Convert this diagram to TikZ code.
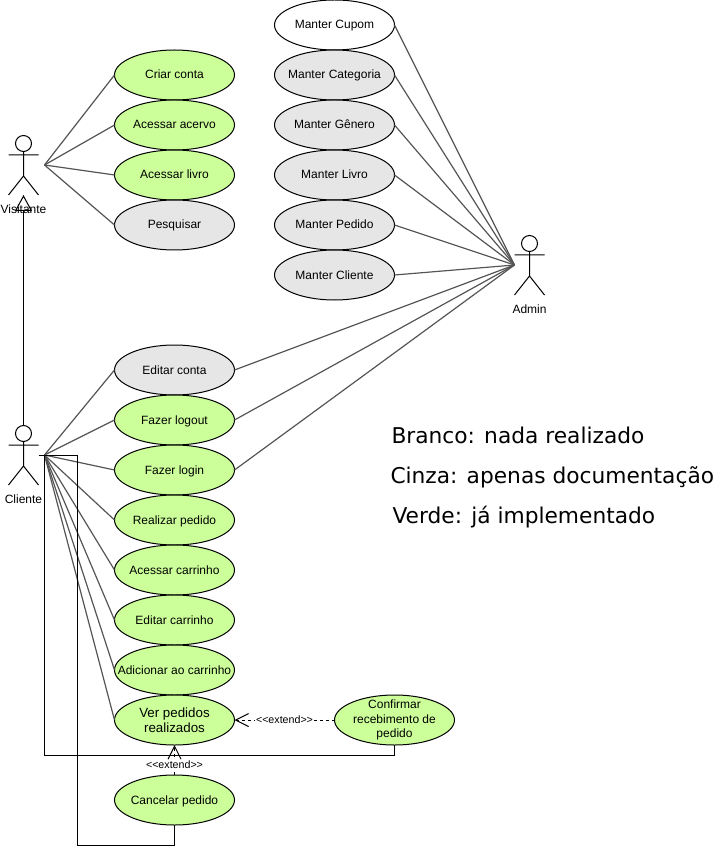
\documentclass[tikz,border=0pt]{standalone}
\usepackage{fontspec}
\setmainfont{Liberation Sans}
\newfontfamily\legendfont{DejaVu Sans}
\usetikzlibrary{arrows.meta, positioning, shapes.geometric}
\definecolor{ink}{HTML}{000000}
\definecolor{assoc}{HTML}{555555}
\definecolor{softgreen}{HTML}{CCFF99}
\definecolor{softgray}{HTML}{E6E6E6}
\newcommand{\extendtext}{<{}<extend>{}>}

\begin{document}
\begin{tikzpicture}[
  x=0.75pt, y=-0.75pt,
  node distance=0pt,
  line width=0.75pt,
  usecase/.style={draw=ink, ellipse, minimum width=90pt, minimum height=37.5pt, inner sep=-14pt, outer sep=0pt, align=center, text height=8pt, text depth=2pt, font=\fontsize{9}{11}\selectfont},
  manylines/.style={text height=, text depth=},
  done/.style={usecase, fill=softgreen},
  docs/.style={usecase, fill=softgray},
  todo/.style={usecase, fill=white},
  actor/.style={minimum width=22.5pt, minimum height=45pt, inner sep=0pt, outer xsep=4.5pt, outer ysep=0pt},
  actorname/.style={inner sep=0pt, font=\fontsize{9}{11}\selectfont},
  legend/.style={anchor=base west, inner sep=0pt, font=\legendfont\fontsize{16.3}{19}\selectfont},
  extendname/.style={fill=white, inner sep=1pt, font=\fontsize{8}{9}\selectfont},
  assocline/.style={draw=assoc, line width=0.9pt},
  extendline/.style={draw=ink, dashed, dash pattern=on 2.25pt off 2.25pt, -{Straight Barb[length=9.75pt, width=9.75pt]}}
]
\useasboundingbox (0,0) rectangle (723,848);

% actors
\node[actor] (visitante) at (23.5,165) {};
\node[actor] (cliente) at (23.5,455) {};
\node[actor, outer xsep=0pt] (admin) at (529.5,265) {};

\foreach \who in {visitante,cliente,admin} {
  \begin{scope}[shift={(\who.center)}]
    \draw (0,-21.5) circle[radius=8];
    \draw (0,-13.5) -- (0,11) (-15,-10) -- (15,-10) (-15,30) -- (0,11) -- (15,30);
  \end{scope}
}

% visitante cases
\node[done] (criar) at (174.5,75) {Criar conta};
\node[done, below=of criar] (acervo) {Acessar acervo};
\node[done, below=of acervo] (livro) {Acessar livro};
\node[docs, below=of livro] (pesquisar) {Pesquisar};

% admin cases
\node[todo] (cupom) at (334.5,25) {Manter Cupom};
\node[docs, below=of cupom] (categoria) {Manter Categoria};
\node[docs, below=of categoria] (genero) {Manter Gênero};
\node[docs, below=of genero] (mlivro) {Manter Livro};
\node[docs, below=of mlivro] (mpedido) {Manter Pedido};
\node[docs, below=of mpedido] (mcliente) {Manter Cliente};

% cliente cases
\node[docs] (editar) at (174.5,370) {Editar conta};
\node[done, below=of editar] (logout) {Fazer logout};
\node[done, below=of logout] (login) {Fazer login};
\node[done, below=of login] (realizar) {Realizar pedido};
\node[done, below=of realizar] (carrinho) {Acessar carrinho};
\node[done, below=of carrinho] (ecarrinho) {Editar carrinho};
\node[done, below=of ecarrinho] (adicionar) {Adicionar ao carrinho};
\node[done, manylines, below=of adicionar, font=\fontsize{10}{11.25}\selectfont] (pedidos) {Ver pedidos\\realizados};
\node[done, manylines] (confirmar) at (394.5,720) {Confirmar\\recebimento de\\pedido};
\node[done] (cancelar) at (174.5,800) {Cancelar pedido};

\coordinate (clientehand) at (38.5,455);
\coordinate (elbowconfirmar) at (394.5,755);
\coordinate (elbowcancelar) at (174.5,845);

% associations
\foreach \uc in {criar,acervo,livro,pesquisar}
  \draw[assocline] (visitante.east) -- (\uc.west);
\foreach \uc in {cupom,categoria,genero,mlivro,mpedido,mcliente,editar,logout,login}
  \draw[assocline] (admin.west) -- (\uc.east);
\foreach \uc in {editar,logout,login,realizar,carrinho,ecarrinho,adicionar,pedidos}
  \draw[assocline] (cliente.east) -- (\uc.west);

% generalization and the two elbows
\draw[draw=ink, -{Triangle[open, length=12pt, width=12.75pt]}] (cliente.north) -- (visitante.south);
\draw[draw=ink] (cliente.east) |- (elbowconfirmar) -- (confirmar.south);
\draw[draw=ink] (clientehand) -- (77,455) |- (elbowcancelar) -- (cancelar.south);

% extends
\draw[extendline] (confirmar.west) -- node[extendname] (extendtop) {\extendtext} (pedidos.east);
\draw[extendline] (cancelar.north) -- (pedidos.south);
\node[extendname] (extendlow) at (174.5,765) {\extendtext};

% names
\node[actorname] (visitantename) at (23.5,209) {Visitante};
\node[actorname] (clientename) at (23.5,499) {Cliente};
\node[actorname] (adminname) at (529.5,309) {Admin};

% legend
\node[legend] (branco) at (391,443) {Branco: nada realizado};
\node[legend] (cinza) at (390,483) {Cinza: apenas documentação};
\node[legend] (verde) at (392,523) {Verde: já implementado};
\end{tikzpicture}
\end{document}
